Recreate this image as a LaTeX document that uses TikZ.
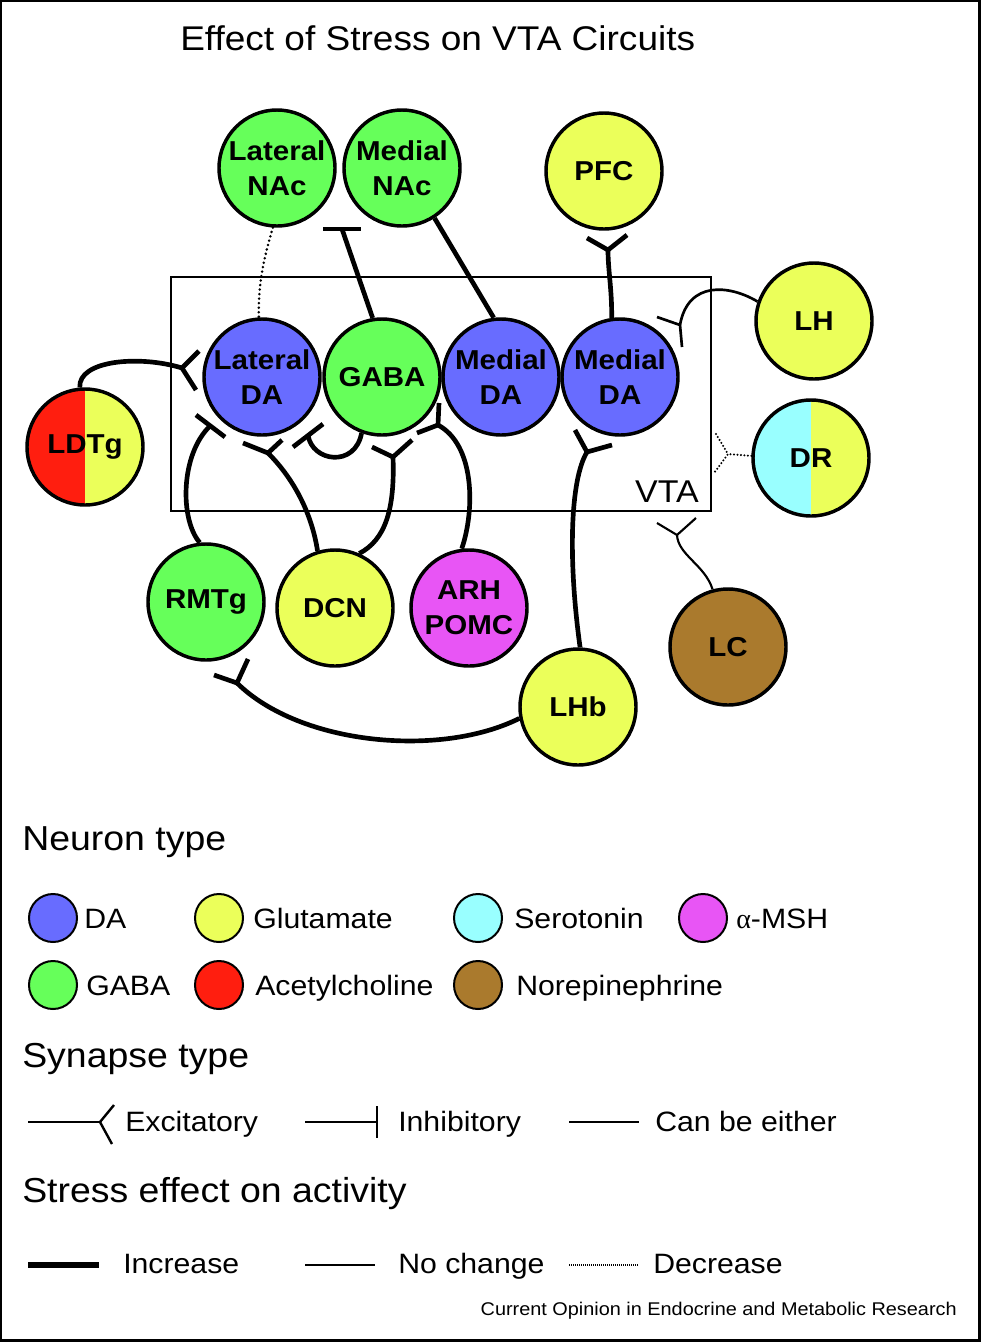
\documentclass[tikz,border=0pt]{standalone}
\usepackage{fontspec}
\setmainfont[FakeStretch=1.08]{Liberation Sans}
\newfontfamily\grkserif{Liberation Serif}
\usetikzlibrary{calc}
\definecolor{daBlue}{RGB}{104,108,255}
\definecolor{gabaGreen}{RGB}{102,255,90}
\definecolor{gluYellow}{RGB}{235,255,90}
\definecolor{serCyan}{RGB}{153,255,255}
\definecolor{mshMag}{RGB}{232,85,245}
\definecolor{achRed}{RGB}{255,30,15}
\definecolor{neBrown}{RGB}{170,122,45}
\tikzset{
  neuron/.style={circle, draw=black, line width=2.6pt, minimum size=87pt, inner sep=0pt,
    align=center, font=\fontsize{20.5}{26}\selectfont\bfseries},
  incr/.style={line width=3.5pt, line join=round},
  nochg/.style={line width=2pt, line join=round},
  thinl/.style={line width=1.6pt, line join=round},
  decr/.style={line width=2.1pt, line cap=round, dash pattern=on 0pt off 3.4pt},
  dotsm/.style={line width=1.7pt, line cap=round, dash pattern=on 0pt off 2.6pt},
  legcirc/.style={circle, draw=black, line width=1.5pt, minimum size=36pt, inner sep=0pt},
  leglbl/.style={anchor=base west, inner sep=0pt, font=\fontsize{21}{25}\selectfont},
  hdr/.style={anchor=base west, inner sep=0pt, font=\fontsize{26}{30}\selectfont},
  legl/.style={line width=1.8pt, line join=round}
}
\begin{document}
\begin{tikzpicture}[x=0.75pt,y=-0.75pt]
\useasboundingbox (0,0) rectangle (981,1343);
\coordinate (fr1) at (1.2,1.2);
\coordinate (fr2) at (979.6,1340.5);
\draw[line width=1.8pt] (fr1) rectangle (fr2);

\node[anchor=base west, inner sep=0pt, font=\fontsize{25.7}{30}\selectfont] (title) at (180,50) {Effect of Stress on VTA Circuits};

% VTA box
\node[draw, line width=1.5pt, minimum width=405pt, minimum height=175.5pt, inner sep=0pt, anchor=north west] (vta) at (170,276) {};
\node[anchor=base east, inner sep=0pt, font=\fontsize{23.6}{28}\selectfont] (vtalbl) at (699,502) {VTA};

% neurons
\node[neuron, fill=gabaGreen] (LNAc) at (277,168) {Lateral\\NAc};
\node[neuron, fill=gabaGreen] (MNAc) at (402,168) {Medial\\NAc};
\node[neuron, fill=gluYellow] (PFC) at (604,171) {PFC};
\node[neuron, fill=gluYellow] (LH) at (814,321) {LH};
\node[neuron, fill=daBlue] (LDA) at (262,377) {Lateral\\DA};
\node[neuron, fill=gabaGreen] (GABA) at (382,377) {GABA};
\node[neuron, fill=daBlue] (MDA1) at (501,377) {Medial\\DA};
\node[neuron, fill=daBlue] (MDA2) at (620,377) {Medial\\DA};
\node[neuron, fill=gluYellow, path picture={\fill[achRed] (path picture bounding box.south west) rectangle (path picture bounding box.north);}] (LDTg) at (85,447) {LDTg};
\node[neuron, fill=gluYellow, path picture={\fill[serCyan] (path picture bounding box.south west) rectangle (path picture bounding box.north);}] (DR) at (811,458) {DR};
\node[neuron, fill=gabaGreen] (RMTg) at (206,602) {RMTg};
\node[neuron, fill=gluYellow] (DCN) at (335,608) {DCN};
\node[neuron, fill=mshMag] (ARH) at (469,608) {ARH\\POMC};
\node[neuron, fill=neBrown] (LC) at (728,647) {LC};
\node[neuron, fill=gluYellow] (LHb) at (578,707) {LHb};

% connectors
\draw[decr] (LNAc.-94) .. controls (265,255) and (258,280) .. (LDA.93);

\coordinate (tMN) at (342,229);
\draw[incr] (GABA.99) -- (tMN);
\draw[incr] ([shift={(-19,0)}]tMN) -- ([shift={(19,0)}]tMN);

\draw[incr] (MNAc.-57) -- (MDA1.97);

\coordinate (jPFC) at (608,250);
\draw[incr] (MDA2.98) .. controls (612,290) and (608,270) .. (jPFC);
\draw[incr] ([shift={(-21,-12)}]jPFC) -- (jPFC) -- ([shift={(19,-15)}]jPFC);

\coordinate (jLH) at (680,325);
\draw[nochg] (LH.161) .. controls (730,285) and (688,280) .. (jLH);
\draw[nochg] ([shift={(-23,-8)}]jLH) -- (jLH) -- ([shift={(2,22)}]jLH);

\coordinate (jDR) at (728,454);
\draw[dotsm] (DR.178) -- (jDR);
\draw[dotsm] ([shift={(-12,-20)}]jDR) -- (jDR) -- ([shift={(-14,19)}]jDR);

\coordinate (jLC) at (677,535);
\draw[thinl] (LC.105) .. controls (705,565) and (678,555) .. (jLC);
\draw[thinl] ([shift={(-20,-12)}]jLC) -- (jLC) -- ([shift={(19,-17)}]jLC);

\coordinate (jLDT) at (182,368);
\draw[incr] (LDTg.95) .. controls (78,360) and (140,355) .. (jLDT);
\draw[incr] ([shift={(17,-17)}]jLDT) -- (jLDT) -- ([shift={(14,22)}]jLDT);

\coordinate (tRM) at (210,426);
\draw[incr] (RMTg.96) .. controls (180,520) and (180,455) .. (tRM);
\draw[incr] ([shift={(-14,-11)}]tRM) -- ([shift={(15,11)}]tRM);

\coordinate (jDCN1) at (268,453);
\draw[incr] (DCN.107) .. controls (312,515) and (295,480) .. (jDCN1);
\draw[incr] ([shift={(-25,-10)}]jDCN1) -- (jDCN1) -- ([shift={(14,-13)}]jDCN1);

\coordinate (tGA) at (308,435);
\draw[incr] (GABA.-110) .. controls (355,468) and (312,462) .. (tGA);
\draw[incr] ([shift={(-15,12)}]tGA) -- ([shift={(15,-11)}]tGA);

\coordinate (jDCN2) at (393,457);
\draw[incr] (DCN.66) .. controls (385,540) and (395,510) .. (jDCN2);
\draw[incr] ([shift={(-21,-10)}]jDCN2) -- (jDCN2) -- ([shift={(19,-17)}]jDCN2);

\coordinate (jARH) at (438,425);
\draw[incr] (ARH.97) .. controls (475,510) and (475,445) .. (jARH);
\draw[incr] ([shift={(1,-22)}]jARH) -- (jARH) -- ([shift={(-21,8)}]jARH);

\coordinate (jLHb) at (587,452);
\draw[incr] (LHb.88) .. controls (568,560) and (570,480) .. (jLHb);
\draw[incr] ([shift={(-12,-22)}]jLHb) -- (jLHb) -- ([shift={(25,-7)}]jLHb);

\coordinate (jRMb) at (237,683);
\draw[incr] (LHb.-169) .. controls (440,758) and (300,745) .. (jRMb);
\draw[incr] ([shift={(-23,-8)}]jRMb) -- (jRMb) -- ([shift={(11,-24)}]jRMb);

% legend: neuron type
\node[hdr] (hNeuron) at (22,850) {Neuron type};
\node[legcirc, fill=daBlue] (lgDA) at (53,918) {};
\node[leglbl] (lgDAt) at (84,928) {DA};
\node[legcirc, fill=gluYellow] (lgGlu) at (219,918) {};
\node[leglbl] (lgGlut) at (253,928) {Glutamate};
\node[legcirc, fill=serCyan] (lgSer) at (478,918) {};
\node[leglbl] (lgSert) at (514,928) {Serotonin};
\node[legcirc, fill=mshMag] (lgMsh) at (703,918) {};
\node[leglbl] (lgMsht) at (736,928) {{\grkserif α}-MSH};
\node[legcirc, fill=gabaGreen] (lgGABA) at (53,985) {};
\node[leglbl] (lgGABAt) at (86,995) {GABA};
\node[legcirc, fill=achRed] (lgAch) at (219,985) {};
\node[leglbl] (lgAcht) at (255,995) {Acetylcholine};
\node[legcirc, fill=neBrown] (lgNe) at (478,985) {};
\node[leglbl] (lgNet) at (516,995) {Norepinephrine};

% legend: synapse type
\node[hdr] (hSyn) at (22,1067) {Synapse type};
\coordinate (eA) at (28,1122);
\coordinate (eJ) at (100,1122);
\draw[legl] (eA) -- (eJ);
\draw[legl] ([shift={(14,-17)}]eJ) -- (eJ) -- ([shift={(12,22)}]eJ);
\node[leglbl] (lgExc) at (125,1131) {Excitatory};
\coordinate (iA) at (305,1122);
\coordinate (iJ) at (377,1122);
\draw[legl] (iA) -- (iJ);
\draw[legl] ([shift={(0,-16)}]iJ) -- ([shift={(0,16)}]iJ);
\node[leglbl] (lgInh) at (398,1131) {Inhibitory};
\coordinate (bA) at (569,1122);
\coordinate (bB) at (639,1122);
\draw[legl] (bA) -- (bB);
\node[leglbl] (lgEith) at (655,1131) {Can be either};

% legend: stress effect
\node[hdr] (hStress) at (22,1202) {Stress effect on activity};
\coordinate (sA) at (28,1265);
\coordinate (sB) at (99,1265);
\draw[line width=3.8pt] (sA) -- (sB);
\node[leglbl] (lgInc) at (123,1273) {Increase};
\coordinate (nA) at (305,1265);
\coordinate (nB) at (375,1265);
\draw[line width=1.8pt] (nA) -- (nB);
\node[leglbl] (lgNo) at (398,1273) {No change};
\coordinate (dA) at (569,1265);
\coordinate (dB) at (639,1265);
\draw[line width=1pt, dash pattern=on 0.75pt off 0.75pt] (dA) -- (dB);
\node[leglbl] (lgDec) at (653,1273) {Decrease};

\node[anchor=base east, inner sep=0pt, font=\fontsize{13.8}{16}\selectfont] (foot) at (957,1315) {Current Opinion in Endocrine and Metabolic Research};
\end{tikzpicture}
\end{document}
